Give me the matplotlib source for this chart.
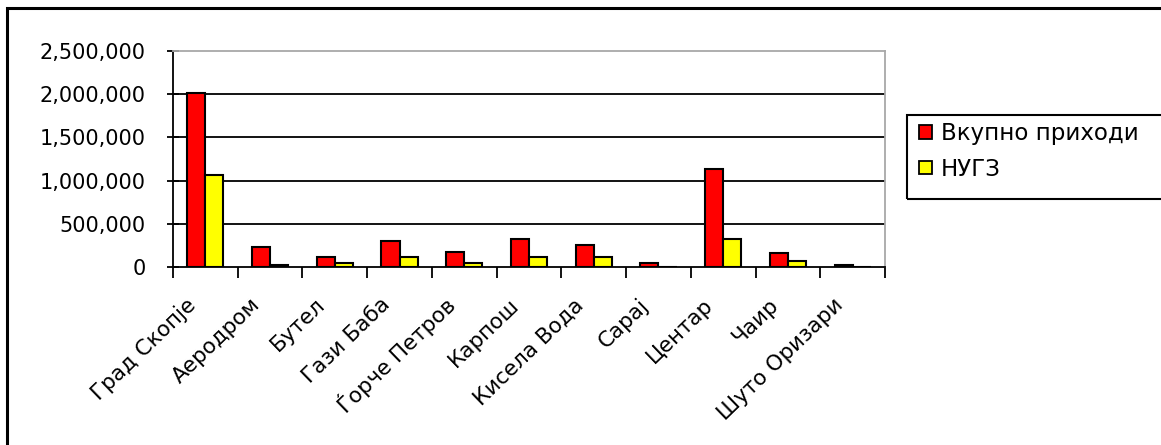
import matplotlib
matplotlib.use("Agg")
import matplotlib.pyplot as plt
import matplotlib.transforms as mtransforms
from matplotlib.patches import Rectangle
from matplotlib.ticker import FuncFormatter, FixedLocator
import numpy as np

plt.rcParams['font.family'] = ['DejaVu Sans']

# municipalities of Skopje
categories = ['Град Скопје', 'Аеродром', 'Бутел', 'Гази Баба', 'Ѓорче Петров',
              'Карпош', 'Кисела Вода', 'Сарај', 'Центар', 'Чаир', 'Шуто Оризари']
total_income = [2017000, 235000, 116000, 301000, 170000,
                324000, 255000, 50000, 1134000, 166000, 27000]
nugz = [1065000, 20000, 50000, 116000, 50000,
        116000, 116000, 0, 324000, 73000, 0]
series_names = ['Вкупно приходи', 'НУГЗ']

fig = plt.figure(figsize=(11.61, 4.45), dpi=100)
ax = fig.add_axes([173/1161, 1 - 267/445, (885-173)/1161, (267-51)/445])

x = np.arange(len(categories))
w = 0.28
ax.bar(x - w/2, total_income, w, color='#ff0000', edgecolor='black', linewidth=1.5, zorder=3)
ax.bar(x + w/2, nugz, w, color='#ffff00', edgecolor='black', linewidth=1.5, zorder=3)

ax.set_xlim(-0.5, len(categories) - 0.5)
ax.set_ylim(0, 2500000)
ax.set_yticks(np.arange(0, 2500001, 500000))
ax.yaxis.set_major_formatter(FuncFormatter(lambda v, p: f'{int(v):,}'))
ax.tick_params(axis='y', direction='inout', length=9, width=1.3, pad=15, labelsize=15, colors='black')
for yv in range(500000, 2000001, 500000):
    ax.axhline(yv, color='black', lw=1.3, zorder=1)

# category boundaries as ticks, names as labels
ax.xaxis.set_major_locator(FixedLocator(np.arange(-0.5, len(categories), 1)))
ax.xaxis.set_major_formatter(FuncFormatter(lambda v, p: ''))
ax.set_xticks(x, minor=True)
ax.set_xticklabels(categories, minor=True)
ax.tick_params(axis='x', which='major', direction='out', length=8, width=1.3)
ax.tick_params(axis='x', which='minor', length=0, pad=25, labelsize=15.5)
off = mtransforms.ScaledTranslation(-0.13, 0, fig.dpi_scale_trans)
for lab in ax.get_xticklabels(minor=True):
    lab.set_rotation(44)
    lab.set_rotation_mode('anchor')
    lab.set_ha('right')
    lab.set_va('center')
    lab.set_transform(lab.get_transform() + off)

for s in ['left', 'bottom']:
    ax.spines[s].set_color('black')
    ax.spines[s].set_linewidth(1.3)
for s in ['top', 'right']:
    ax.spines[s].set_color('#a8a8a8')
    ax.spines[s].set_linewidth(1.3)

# legend
handles = [Rectangle((0, 0), 1, 1, fc='#ff0000', ec='black', lw=1.3),
           Rectangle((0, 0), 1, 1, fc='#ffff00', ec='black', lw=1.3)]
fig.legend(handles, series_names, loc='upper left', bbox_to_anchor=(919/1161, 1 - 122/445),
           frameon=False, fontsize=16.5, handlelength=0.55, handleheight=0.55,
           handletextpad=0.4, labelspacing=0.55, borderpad=0, borderaxespad=0)
fig.patches.append(Rectangle((907/1161, 1 - 199/445), 0.3, (199-115)/445,
                             transform=fig.transFigure, fill=False, ec='black', lw=1.5))

# outer chart border
fig.patches.append(Rectangle((7/1161, -0.2), 1.2, 1.2 - 8/445,
                             transform=fig.transFigure, fill=False, ec='black', lw=2.2))

fig.savefig('out.png', dpi=100)
